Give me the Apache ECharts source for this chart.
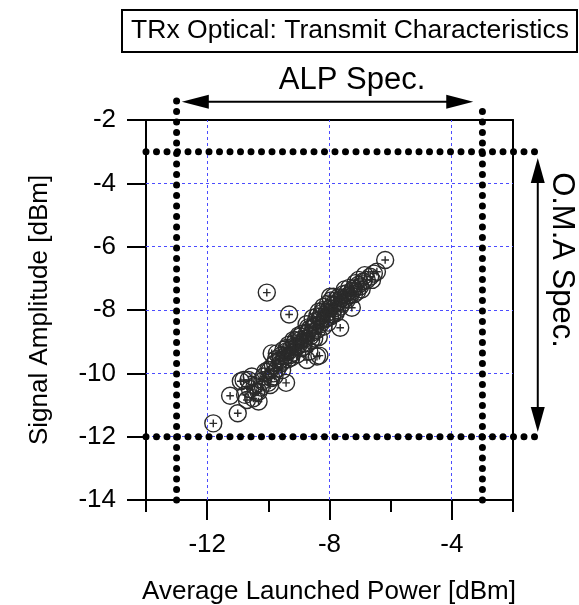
<!DOCTYPE html>
<html><head><meta charset="utf-8">
<script src="https://cdn.jsdelivr.net/npm/echarts@6/dist/echarts.min.js"></script>
<style>html,body{margin:0;padding:0;background:#fff}#c{width:579px;height:605px}</style>
</head><body><div id="c"></div>
<script>
// ---- data ----
const xLabelValues = [-12, -8, -4];
const xMinorTickValues = [-14, -10, -6, -2];
const yTickValues = [-14, -12, -10, -8, -6, -4, -2];
const yGridValues = [-12, -10, -8, -6, -4];
const alpSpec = [-13, -3];   // Average launched power spec limits (dBm)
const omaSpec = [-12, -3];   // O.M.A spec limits (dBm)
const avgPower = [
 -11.80,-11.00,-11.25,-10.76,-10.81,-10.65,-10.54,-10.32,-10.49,-10.32,-10.70,-9.94,-9.42,-10.00,-9.83,-10.10,-9.78,-9.61,-9.72,-9.89,-9.51,-9.29,-9.18,-8.96,-8.74,-8.41,-9.07,-9.34,-8.85,
 -6.18,-6.45,-6.67,-6.61,-6.78,-10.05,-9.32,-7.27,-7.65,-7.98,-8.33,-8.66,
 -8.20,-7.87,-7.43,-7.21,-7.00,-7.76,-8.30,-8.52,-8.74,-8.96,-9.18,-9.29,-8.85,-8.63,-8.20,-7.98,-7.59,-7.32,-7.10,-7.43,-7.76,-8.41,-8.09,
 -8.00,-7.90,-8.15,-8.30,-8.45,-8.55,-8.70,-8.80,-9.00,-9.10,-9.20,-9.45,-9.40,-9.60,-9.85,-9.95,-9.70,-8.60,-8.40,-8.25,-7.95,-7.70,-7.55,-7.65,-7.80,-7.50,-7.20,-7.05,-6.90,-6.95,-7.15,-7.35,-8.05,-8.50,-8.35,-9.05,-9.35,-9.55,-9.80,-10.20,-10.00,-9.90,-10.45,-10.60,-10.90,-10.40,
 -8.90,-8.65,-8.45,-8.30,-8.10,-7.85,-7.60,-7.40,-7.25,-9.15,-9.40,-9.60,-9.75,-9.50,-8.75,-8.55,-8.20,-8.05,-7.70,-7.50,-9.25,-9.00,-8.90,-8.35,-7.90,-7.05,-6.85,-6.55,-10.15,-10.25
];
const signalAmp = [
 -11.58,-11.26,-10.71,-10.68,-10.21,-10.21,-10.10,-10.58,-10.79,-10.89,-10.84,-10.37,-10.30,-9.89,-10.00,-9.95,-9.68,-9.58,-9.37,-9.37,-9.26,-9.42,-8.95,-8.84,-9.58,-9.47,-9.16,-9.10,-9.16,
 -6.42,-6.79,-6.95,-7.05,-7.05,-7.45,-8.14,-7.93,-8.56,-7.58,-9.44,-9.31,
 -7.90,-7.58,-7.47,-7.32,-7.26,-7.79,-8.21,-8.53,-8.74,-8.95,-9.16,-9.26,-9.05,-8.84,-8.53,-8.21,-7.63,-7.53,-7.42,-7.68,-8.00,-8.63,-8.10,
 -7.95,-7.85,-8.30,-8.45,-8.35,-8.70,-8.55,-8.90,-9.10,-8.95,-9.35,-9.45,-9.20,-9.70,-9.75,-9.90,-9.85,-8.95,-8.20,-8.10,-7.70,-7.72,-7.50,-7.90,-8.10,-7.35,-7.50,-7.20,-7.10,-7.35,-7.15,-7.30,-8.40,-8.90,-8.85,-9.40,-9.55,-9.90,-10.10,-10.25,-10.30,-10.15,-10.40,-10.50,-10.25,-10.60,
 -8.75,-8.60,-8.50,-8.30,-8.25,-7.95,-7.80,-7.55,-7.40,-9.05,-9.30,-9.45,-9.55,-9.60,-8.45,-8.25,-8.00,-7.80,-7.60,-7.65,-9.50,-8.80,-9.20,-8.05,-8.15,-7.05,-6.90,-6.85,-10.10,-10.45
];

const FONT = "'Liberation Sans', Arial, sans-serif";
const GRID_BLUE = '#4c4cff';
const chart = echarts.init(document.getElementById('c'), null, {renderer: 'canvas'});
const points = avgPower.map((x, i) => [x, signalAmp[i]]);
const markerPath = 'path://M0,-8A8,8,0,1,1,0,8A8,8,0,1,1,0,-8ZM-3.6,0L3.6,0M0,-3.6L0,3.6';

function annotations(params, api) {
  const c = (x, y) => api.coord([x, y]);
  const snap = v => Math.round(v - 0.5) + 0.5;
  const kids = [];
  const seg = (a, b, style) => ({type: 'line', shape: {x1: a[0], y1: a[1], x2: b[0], y2: b[1]}, style});
  const dashStyle = () => ({stroke: GRID_BLUE, lineWidth: 1, lineDash: [3, 3]});
  // dashed grid lines
  xLabelValues.forEach(v => { const a = c(v, -14), b = c(v, -2); kids.push(seg([snap(a[0]), a[1]], [snap(b[0]), b[1]], dashStyle())); });
  yGridValues.forEach(v => { const a = c(-14, v), b = c(-2, v); kids.push(seg([a[0], snap(a[1])], [b[0], snap(b[1])], dashStyle())); });
  const dotStyle = () => ({stroke: '#000', lineWidth: 7, lineCap: 'round', lineDash: [0, 10.5]});
  // spec limit dotted lines
  kids.push(seg(c(alpSpec[0], -14), c(alpSpec[0], -1.34), dotStyle()));
  kids.push(seg(c(alpSpec[1], -14), c(alpSpec[1], -1.68), dotStyle()));
  kids.push(seg(c(-14, omaSpec[1]), c(-1.13, omaSpec[1]), dotStyle()));
  kids.push(seg(c(-14, omaSpec[0]), c(-1.13, omaSpec[0]), dotStyle()));
  // ALP arrow
  const aL = c(-12.83, -1.42), aR = c(-3.30, -1.42);
  const HL = 27, HW = 7;
  kids.push(seg([aL[0] + HL - 2, aL[1]], [aR[0] - HL + 2, aR[1]], {stroke: '#000', lineWidth: 2}));
  kids.push({type: 'polygon', shape: {points: [aL, [aL[0] + HL, aL[1] - HW], [aL[0] + HL, aL[1] + HW]]}, style: {fill: '#000'}});
  kids.push({type: 'polygon', shape: {points: [aR, [aR[0] - HL, aR[1] - HW], [aR[0] - HL, aR[1] + HW]]}, style: {fill: '#000'}});
  // OMA arrow
  const oT = c(-1.19, -3.2), oB = c(-1.19, -11.85);
  const VL = 25;
  kids.push(seg([oT[0], oT[1] + VL - 2], [oB[0], oB[1] - VL + 2], {stroke: '#000', lineWidth: 2}));
  kids.push({type: 'polygon', shape: {points: [oT, [oT[0] - HW, oT[1] + VL], [oT[0] + HW, oT[1] + VL]]}, style: {fill: '#000'}});
  kids.push({type: 'polygon', shape: {points: [oB, [oB[0] - HW, oB[1] - VL], [oB[0] + HW, oB[1] - VL]]}, style: {fill: '#000'}});
  return {type: 'group', children: kids};
}

const blackLine = {lineStyle: {color: '#000', width: 2}};
chart.setOption({
  animation: false,
  backgroundColor: '#fff',
  grid: {left: 146, right: 66, top: 120, bottom: 105, containLabel: false},
  xAxis: [
    {type: 'value', min: -14, max: -2, interval: 2, position: 'bottom',
     axisLine: blackLine, axisTick: {length: 12, customValues: xMinorTickValues, lineStyle: {color: '#000', width: 2}},
     axisLabel: {show: false}, splitLine: {show: false}},
    {type: 'value', min: -14, max: -2, interval: 2, position: 'bottom',
     axisLine: {show: false},
     axisTick: {length: 20, customValues: xLabelValues, lineStyle: {color: '#000', width: 2}},
     axisLabel: {customValues: xLabelValues, fontSize: 26, fontFamily: FONT, color: '#000', margin: 32},
     splitLine: {show: false}},
    {type: 'value', min: -14, max: -2, position: 'top', axisLine: blackLine,
     axisTick: {show: false}, axisLabel: {show: false}, splitLine: {show: false}}
  ],
  yAxis: [
    {type: 'value', min: -14, max: -2, interval: 2, position: 'left',
     axisLine: blackLine, axisTick: {length: 19, lineStyle: {color: '#000', width: 2}},
     axisLabel: {fontSize: 26, fontFamily: FONT, color: '#000', margin: 30,
       customValues: yTickValues},
     splitLine: {show: false}},
    {type: 'value', min: -14, max: -2, position: 'right', axisLine: blackLine,
     axisTick: {show: false}, axisLabel: {show: false}, splitLine: {show: false}}
  ],
  series: [
    {type: 'custom', coordinateSystem: 'cartesian2d', xAxisIndex: 0, yAxisIndex: 0,
     data: [[alpSpec[0], omaSpec[0]]], renderItem: annotations, z: 1, silent: true, clip: false},
    {type: 'scatter', xAxisIndex: 0, yAxisIndex: 0, data: points, z: 3,
     symbol: markerPath, symbolSize: 17,
     itemStyle: {color: 'rgba(0,0,0,0)', borderColor: '#2a2a2a', borderWidth: 1.4, opacity: 1}}
  ],
  graphic: [
    {type: 'rect', shape: {x: 122, y: 10, width: 455, height: 42}, style: {fill: '#fff', stroke: '#000', lineWidth: 2}, z: 10},
    {type: 'text', x: 350, y: 31, z: 11, style: {text: 'TRx Optical: Transmit Characteristics', font: '26.5px ' + FONT, fill: '#000', align: 'center', verticalAlign: 'middle'}},
    {type: 'text', x: 352, y: 80, z: 11, style: {text: 'ALP Spec.', font: '31px ' + FONT, fill: '#000', align: 'center', verticalAlign: 'middle'}},
    {type: 'text', x: 562, y: 260, rotation: -Math.PI / 2, z: 11, style: {text: 'O.M.A Spec.', font: '31px ' + FONT, fill: '#000', align: 'center', verticalAlign: 'middle'}},
    {type: 'text', x: 329, y: 592, z: 11, style: {text: 'Average Launched Power [dBm]', font: '26px ' + FONT, fill: '#000', align: 'center', verticalAlign: 'middle'}},
    {type: 'text', x: 40, y: 310, rotation: Math.PI / 2, z: 11, style: {text: 'Signal Amplitude [dBm]', font: '26px ' + FONT, fill: '#000', align: 'center', verticalAlign: 'middle'}}
  ]
});
</script></body></html>
